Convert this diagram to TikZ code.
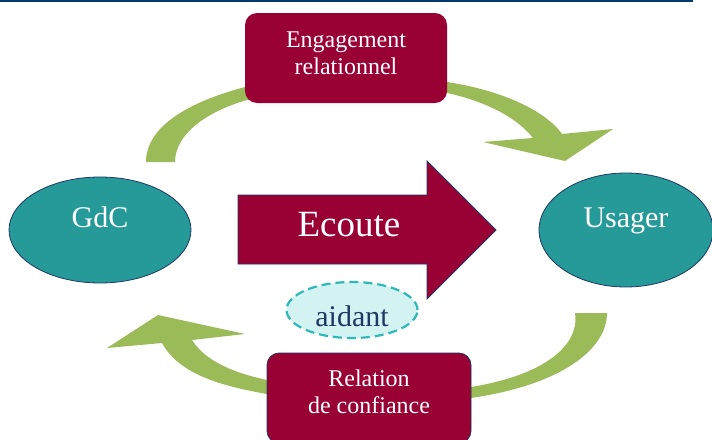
\documentclass[tikz,border=0pt]{standalone}
\usepackage{fontspec}
\setmainfont{Liberation Serif}
\usepackage[HTML]{xcolor}
\usepackage{tikz}
\usetikzlibrary{positioning, shapes.geometric}
\definecolor{boxred}{HTML}{990033}
\definecolor{tealfill}{HTML}{269999}
\definecolor{loopgreen}{HTML}{9BBB59}
\definecolor{navy}{HTML}{1F3864}
\definecolor{aidfill}{HTML}{D3F2F2}
\definecolor{aiddash}{HTML}{2EB8B8}
\definecolor{rulecol}{HTML}{003A6E}

\begin{document}
\begin{tikzpicture}[x=1pt, y=-1pt,
  rbox/.style={fill=boxred, rounded corners=12pt, minimum width=#1, minimum height=90pt, inner sep=0pt},
  boxtext/.style={text=white, align=center, font=\fontsize{24}{27}\selectfont},
  person/.style={ellipse, draw=navy, line width=0.8pt, fill=tealfill, text=white, inner sep=0pt,
    text height=20pt, text depth=26pt, font=\fontsize{30}{36}\selectfont},
  band/.style={fill=loopgreen}]
\useasboundingbox (0,0) rectangle (712,439);
\draw[rulecol, line width=2pt] (0,1) -- (693,1);
\fill[band] (146,162) .. controls (146,128) and (185,103) .. (245,87) -- (447,82)
  .. controls (500,90) and (545,110) .. (562,134) -- (613,129) -- (565,161) -- (483,142) -- (533,138)
  .. controls (515,115) and (480,100) .. (447,93) -- (247,100)
  .. controls (205,112) and (175,135) .. (175,162) -- cycle;
\fill[band] (575,313) -- (607,313) .. controls (607,350) and (560,385) .. (471,398) -- (267,394)
  .. controls (215,385) and (178,372) .. (162,343) -- (107,348) -- (158,315) -- (245,334) -- (192,340)
  .. controls (205,360) and (230,372) .. (267,380) -- (471,387)
  .. controls (545,375) and (580,345) .. (575,313) -- cycle;
\node[rbox=202pt] (engbox) at (346,58) {};
\node[boxtext] (engtext) at ([yshift=5pt]engbox.center) {Engagement\\relationnel};
\node[rbox=204pt, draw=navy, line width=0.8pt] (confbox) at (369,398) {};
\node[boxtext] (conftext) at ([yshift=6pt]confbox.center) {Relation\\de confiance};
\node[person, minimum width=182pt, minimum height=106pt] (gdc) at (100,230) {GdC};
\node[person, minimum width=174pt, minimum height=114pt] (usager) at (626,230) {Usager};
\draw[navy, line width=0.8pt, fill=boxred] (238,195) -- (427,195) -- (427,161) -- (496,230)
  -- (427,299) -- (427,264) -- (238,264) -- cycle;
\node[text=white, anchor=base, font=\fontsize{37}{40}\selectfont] (ecoute) at (349,236) {Ecoute};
\node[ellipse, draw=aiddash, fill=aidfill, line width=2.2pt, dash pattern=on 9pt off 5pt,
  minimum width=131pt, minimum height=56pt, inner sep=0pt, text=navy, text height=32pt, text depth=0pt,
  font=\fontsize{30}{36}\selectfont] (aidant) at (352,310) {aidant};
\end{tikzpicture}
\end{document}
